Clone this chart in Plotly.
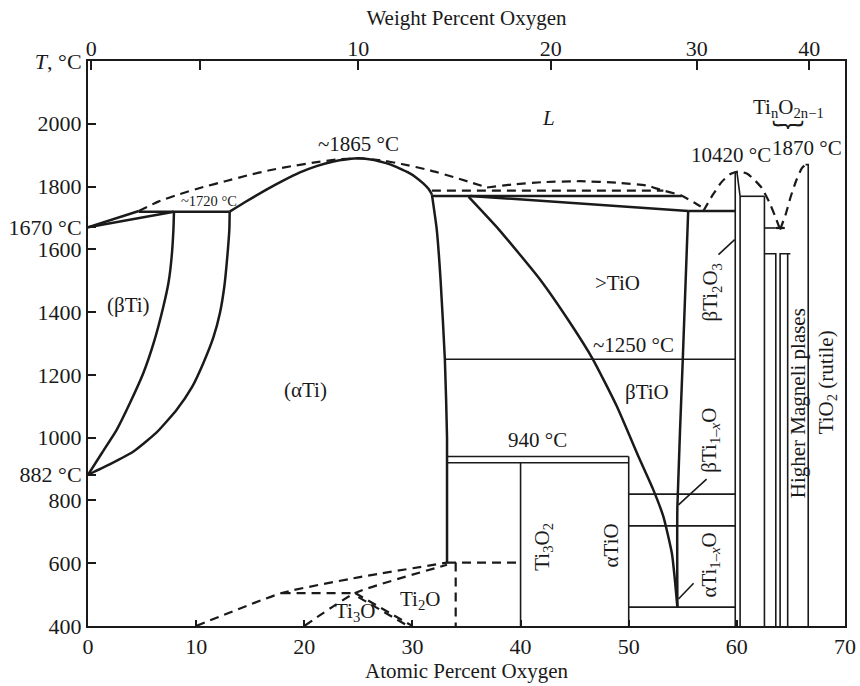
import plotly.graph_objects as go

# ---------------- data (atomic % O, temperature °C) ----------------
# bottom / top axis ticks
x_ticks = [0, 10, 20, 30, 40, 50, 60, 70]
top_tick_pos = [0.3, 10.4, 25.0, 42.8, 56.3, 66.7]      # atomic % positions of weight-% ticks
top_tick_text = ["0", "", "10", "20", "30", "40"]
y_tick_vals = [400, 600, 800, 882, 1000, 1200, 1400, 1600, 1670, 1800, 2000, 2200]
y_tick_text = ["400", "600", "800", "882 °C", "1000", "1200", "1400", "1600",
               "1670 °C", "1800", "2000", "<i>T</i>, °C"]

# solid boundaries
beta_solvus_a = [0, 1.3, 2.65, 3.9, 5.12, 6.1, 6.97, 7.45, 7.74, 7.9, 7.95]
beta_solvus_T = [882, 952, 1025, 1112, 1206, 1305, 1418, 1495, 1578, 1663, 1720]
alpha_solvus_a = [0, 2.0, 4.2, 6.3, 8.2, 9.6, 10.67, 11.6, 12.2, 12.6, 12.83, 13.07, 13.1]
alpha_solvus_T = [882, 915, 956, 1015, 1089, 1160, 1238, 1320, 1397, 1480, 1557, 1663, 1720]
beta_liq_a = [0, 4.7]
beta_liq_T = [1670, 1722]
beta_sol_a = [0, 7.95]
beta_sol_T = [1670, 1720]
peritectic_a = [4.7, 13.1]
peritectic_T = [1720, 1720]
alpha_sol_a = [13.1, 14.5, 16.5, 18, 19.6, 21.2, 22.7, 24, 25, 26, 27, 28, 28.8, 29.6, 30.3, 31, 31.5, 31.8]
alpha_sol_T = [1720, 1750, 1790, 1818, 1845, 1866, 1880, 1887, 1890, 1887, 1880, 1870, 1858, 1845, 1830, 1810, 1792, 1775]
alpha_right_a = [31.8, 32.25, 32.6, 33.0, 33.2, 33.2]
alpha_right_T = [1775, 1663, 1504, 1249, 1000, 600]
mono_a = [31.8, 54.9]
mono_T = [1770, 1770]
slope_a = [35.3, 55.5]
slope_T = [1770, 1722]
eut_a = [55.5, 59.85]
eut_T = [1722, 1722]
tio_right_a = [55.5, 55.0, 54.5, 54.5]
tio_right_T = [1722, 1250, 780, 460]
btio_a = [35.2, 38.0, 41.8, 44.5, 46.7, 48.9, 50.9, 52.2, 53.2, 54.0, 54.3, 54.5]
btio_T = [1767, 1663, 1504, 1370, 1249, 1100, 940, 840, 749, 630, 536, 460]
h1250_a = [33.0, 59.85]
h1250_T = [1250, 1250]
h940_a = [33.2, 50.0]
h940_T = [940, 940]
h920_a = [33.2, 50.0]
h920_T = [920, 920]
v50_a = [50, 50]
v50_T = [940, 400]
v40_a = [40, 40]
v40_T = [920, 400]
h820_a = [50, 59.85]
h820_T = [820, 820]
h719_a = [50, 59.85]
h719_T = [719, 719]
h460_a = [50, 59.85]
h460_T = [460, 460]
ti2o3_left_a = [59.85, 59.85]
ti2o3_left_T = [1848, 400]
ti2o3_right_a = [60.0, 60.3, 60.3]
ti2o3_right_T = [1848, 1769, 400]
h1769_a = [60.3, 62.55]
h1769_T = [1769, 1769]
v6255_a = [62.55, 62.55]
v6255_T = [1769, 400]
h1668_a = [62.55, 63.6]
h1668_T = [1668, 1668]
cap1_a = [62.55, 63.6, 63.6]
cap1_T = [1586, 1586, 400]
cap2_a = [64.0, 64.0, 64.95]
cap2_T = [400, 1586, 1586]
v647_a = [64.7, 64.7]
v647_T = [1586, 400]
rutile_a = [66.35, 66.6, 66.6]
rutile_T = [1870, 1870, 400]
ptr1_a = [58.3, 59.8]
ptr1_T = [1583, 1631]
ptr2_a = [54.6, 57.2]
ptr2_T = [786, 868]
ptr3_a = [54.6, 56.0]
ptr3_T = [486, 536]

# dashed boundaries
liq_a = [4.7, 6.5, 8.5, 10.5, 12.7, 14.8, 16.8, 19, 21, 23, 25, 27, 29, 31.6, 34.3, 36.9]
liq_T = [1722, 1752, 1776, 1797, 1817, 1836, 1852, 1866, 1877, 1886, 1890, 1884, 1872, 1852, 1825, 1797]
dome_a = [36.9, 39.3, 42, 45.5, 49, 51.7, 52.9, 54.8, 56, 57.1]
dome_T = [1797, 1807, 1814, 1817, 1812, 1803, 1790, 1772, 1750, 1727]
h1787_a = [31.8, 53.2]
h1787_T = [1787, 1787]
rdome_a = [56.9, 57.8, 58.6, 59.4, 60.2, 61.0, 61.6, 62.3, 63.0, 63.6, 64.0]
rdome_T = [1722, 1775, 1815, 1840, 1848, 1840, 1822, 1796, 1750, 1700, 1663]
rut_liq_a = [64.0, 64.5, 65.0, 65.5, 66.0, 66.4]
rut_liq_T = [1663, 1710, 1770, 1820, 1858, 1872]
h1668d_a = [63.6, 64.95]
h1668d_T = [1668, 1668]
low1_a = [10, 17.9, 25, 33.2]
low1_T = [400, 505, 555, 602]
low2_a = [20, 24.7, 33.2]
low2_T = [400, 505, 595]
h505_a = [17.9, 24.7]
h505_T = [505, 505]
dbl1_a = [24.7, 30.0]
dbl1_T = [505, 400]
dbl2_a = [25.0, 29.6]
dbl2_T = [492, 400]
h602_a = [33.2, 40.0]
h602_T = [602, 602]
v34_a = [34.0, 34.0]
v34_T = [602, 400]

solid_thick = [
    (beta_solvus_a, beta_solvus_T), (alpha_solvus_a, alpha_solvus_T),
    (alpha_sol_a, alpha_sol_T), (alpha_right_a, alpha_right_T),
    (btio_a, btio_T), (tio_right_a, tio_right_T),
    (beta_liq_a, beta_liq_T), (beta_sol_a, beta_sol_T), (peritectic_a, peritectic_T),
    (mono_a, mono_T), (slope_a, slope_T), (eut_a, eut_T),
]
solid_thin = [
    (h1250_a, h1250_T), (h940_a, h940_T), (h920_a, h920_T), (v50_a, v50_T),
    (v40_a, v40_T), (h820_a, h820_T), (h719_a, h719_T), (h460_a, h460_T),
    (ti2o3_left_a, ti2o3_left_T), (ti2o3_right_a, ti2o3_right_T),
    (h1769_a, h1769_T), (v6255_a, v6255_T), (h1668_a, h1668_T),
    (cap1_a, cap1_T), (cap2_a, cap2_T), (v647_a, v647_T), (rutile_a, rutile_T),
    (ptr1_a, ptr1_T), (ptr2_a, ptr2_T), (ptr3_a, ptr3_T),
]
dashed = [
    (liq_a, liq_T), (dome_a, dome_T), (h1787_a, h1787_T), (rdome_a, rdome_T),
    (rut_liq_a, rut_liq_T), (h1668d_a, h1668d_T), (low1_a, low1_T), (low2_a, low2_T),
    (h505_a, h505_T), (dbl1_a, dbl1_T), (dbl2_a, dbl2_T), (h602_a, h602_T), (v34_a, v34_T),
]

FONT = "Liberation Serif"
INK = "#1a1a1a"
fig = go.Figure()

for xs, ys in solid_thick:
    fig.add_trace(go.Scatter(x=xs, y=ys, mode="lines",
                             line=dict(color=INK, width=2.5, shape="spline", smoothing=0.5),
                             showlegend=False, hoverinfo="skip"))
for xs, ys in solid_thin:
    fig.add_trace(go.Scatter(x=xs, y=ys, mode="lines", line=dict(color=INK, width=1.6),
                             showlegend=False, hoverinfo="skip"))
for xs, ys in dashed:
    fig.add_trace(go.Scatter(x=xs, y=ys, mode="lines",
                             line=dict(color=INK, width=2.2, dash="9px,6px", shape="spline", smoothing=0.5),
                             showlegend=False, hoverinfo="skip"))
# invisible trace to anchor the top axis
fig.add_trace(go.Scatter(x=[0, 70], y=[400, 400], xaxis="x2", mode="lines",
                         line=dict(width=0), showlegend=False, hoverinfo="skip"))

labels = [
    (42.6, 2020, "<i>L</i>", 21, 0),
    (25.0, 1937, "~1865 °C", 21, 0),
    (11.2, 1755, "~1720 °C", 14.5, 0),
    (59.5, 1899, "10420 °C", 21, 0),
    (66.5, 1923, "1870 °C", 21, 0),
    (64.8, 2050, "Ti<sub>n</sub>O<sub>2n−1</sub>", 21, 0),
    (3.7, 1424, "(βTi)", 21, 0),
    (20.1, 1153, "(αTi)", 21, 0),
    (49.0, 1494, ">TiO", 21, 0),
    (50.4, 1296, "~1250 °C", 21, 0),
    (51.7, 1147, "βTiO", 21, 0),
    (41.6, 993, "940 °C", 21, 0),
    (24.7, 446, "Ti<sub>3</sub>O", 21, 0),
    (30.7, 483, "Ti<sub>2</sub>O", 21, 0),
    (57.6, 1462, "βTi<sub>2</sub>O<sub>3</sub>", 21, -90),
    (57.5, 993, "βTi<sub>1–<i>x</i></sub>O", 21, -90),
    (57.5, 595, "αTi<sub>1–<i>x</i></sub>O", 21, -90),
    (65.6, 1111, "Higher Magneli plases", 21, -90),
    (68.3, 1175, "TiO<sub>2</sub> (rutile)", 21, -90),
    (42.0, 653, "Ti<sub>3</sub>O<sub>2</sub>", 21, -90),
    (48.4, 658, "αTiO", 21, -90),
]
for xa, ya, txt, sz, ang in labels:
    fig.add_annotation(x=xa, y=ya, xref="x", yref="y", text=txt, showarrow=False,
                       textangle=ang, font=dict(family=FONT, size=sz, color=INK))
fig.add_annotation(x=64.7, y=1968, xref="x", yref="y", text="︸", showarrow=False,
                   font=dict(family="Noto Sans CJK JP", size=32, color=INK))

axis_font = dict(family=FONT, size=21, color=INK)
tick_font = dict(family=FONT, size=22, color=INK)
fig.update_layout(
    width=860, height=686,
    margin=dict(l=88, r=15, t=61, b=60, autoexpand=False),
    plot_bgcolor="white", paper_bgcolor="white",
    font=axis_font,
    xaxis=dict(range=[0, 70], tickvals=x_ticks, ticks="inside", ticklen=6, tickwidth=1.5,
               tickcolor=INK, showline=True, linewidth=2, linecolor=INK, mirror=True,
               showgrid=False, zeroline=False, tickfont=tick_font, automargin=False,
               title=dict(text="Atomic Percent Oxygen", font=axis_font, standoff=0)),
    xaxis2=dict(range=[0, 70], overlaying="x", side="top", tickvals=top_tick_pos, ticktext=top_tick_text,
                ticks="inside", ticklen=9, tickwidth=1.5, tickcolor=INK, showline=False,
                showgrid=False, zeroline=False, tickfont=tick_font, automargin=False,
                title=dict(text="Weight Percent Oxygen", font=axis_font, standoff=4)),
    yaxis=dict(range=[400, 2200], tickvals=y_tick_vals, ticktext=y_tick_text, ticks="inside",
               ticklen=8, tickwidth=1.5, tickcolor=INK, showline=True, linewidth=2,
               linecolor=INK, mirror=True, showgrid=False, zeroline=False, tickfont=tick_font,
               automargin=False),
)
fig.write_html("out.html")
